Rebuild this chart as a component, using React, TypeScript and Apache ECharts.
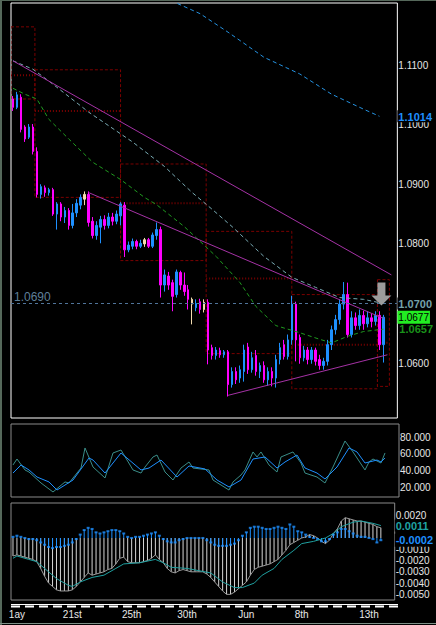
import React, { useEffect, useRef } from "react";
import * as echarts from "echarts";

const FONT = '"Liberation Sans", Arial, sans-serif';
const BAR_SLOTS = 97;

// ---- price candles (bar index 0..93) ----
const opens = [1.1043,1.1029,1.1046,1.0996,1.0979,1.0996,1.0955,1.0883,1.0894,1.0886,
1.0891,1.0850,1.0867,1.0845,1.0856,1.0831,1.0852,1.0865,1.0875,1.0883,
1.0838,1.0814,1.0828,1.0841,1.0831,1.0845,1.0838,1.0847,1.0865,1.0790,
1.0796,1.0804,1.0796,1.0800,1.0807,1.0796,1.0814,1.0824,1.0731,1.0746,
1.0735,1.0715,1.0752,1.0731,1.0723,1.0699,1.0693,1.0703,1.0690,1.0702,
1.0626,1.0613,1.0621,1.0614,1.0619,1.0564,1.0586,1.0575,1.0586,1.0627,
1.0589,1.0613,1.0586,1.0596,1.0572,1.0586,1.0575,1.0606,1.0631,1.0611,
1.0639,1.0699,1.0643,1.0609,1.0622,1.0606,1.0622,1.0606,1.0596,1.0603,
1.0631,1.0656,1.0673,1.0699,1.0715,1.0648,1.0676,1.0663,1.0680,1.0666,
1.0676,1.0670,1.0680,1.0631];
const closes = [1.1029,1.1050,1.0992,1.0976,1.0996,1.0955,1.0883,1.0896,1.0886,1.0891,
1.0850,1.0867,1.0845,1.0856,1.0831,1.0852,1.0868,1.0878,1.0883,1.0836,
1.0814,1.0831,1.0841,1.0831,1.0845,1.0838,1.0850,1.0867,1.0790,1.0798,
1.0804,1.0796,1.0801,1.0807,1.0796,1.0815,1.0824,1.0731,1.0748,1.0731,
1.0712,1.0753,1.0731,1.0720,1.0707,1.0707,1.0700,1.0690,1.0702,1.0622,
1.0613,1.0622,1.0614,1.0619,1.0564,1.0586,1.0572,1.0589,1.0622,1.0589,
1.0609,1.0586,1.0596,1.0572,1.0586,1.0575,1.0606,1.0626,1.0611,1.0639,
1.0699,1.0639,1.0609,1.0622,1.0606,1.0622,1.0603,1.0596,1.0603,1.0631,
1.0656,1.0673,1.0699,1.0715,1.0648,1.0676,1.0663,1.0680,1.0666,1.0676,
1.0670,1.0680,1.0631,1.0677];
const highs = [1.1048,1.1055,1.1051,1.0999,1.1001,1.1001,1.0962,1.0900,1.0898,1.0894,
1.0894,1.0870,1.0870,1.0862,1.0860,1.0867,1.0875,1.0883,1.0888,1.0888,
1.0845,1.0838,1.0847,1.0848,1.0852,1.0852,1.0856,1.0870,1.0870,1.0804,
1.0809,1.0807,1.0807,1.0810,1.0810,1.0819,1.0836,1.0829,1.0757,1.0753,
1.0740,1.0757,1.0755,1.0752,1.0731,1.0710,1.0707,1.0708,1.0707,1.0707,
1.0631,1.0627,1.0626,1.0622,1.0622,1.0593,1.0593,1.0596,1.0631,1.0634,
1.0619,1.0622,1.0601,1.0603,1.0593,1.0593,1.0614,1.0634,1.0639,1.0648,
1.0713,1.0703,1.0648,1.0629,1.0627,1.0627,1.0626,1.0614,1.0609,1.0639,
1.0663,1.0681,1.0707,1.0736,1.0735,1.0687,1.0685,1.0690,1.0688,1.0687,
1.0683,1.0687,1.0687,1.0681];
const lows = [1.1023,1.1026,1.0987,1.0971,1.0976,1.0950,1.0878,1.0876,1.0879,1.0881,
1.0847,1.0824,1.0838,1.0835,1.0824,1.0826,1.0845,1.0858,1.0865,1.0829,
1.0809,1.0807,1.0801,1.0824,1.0826,1.0831,1.0833,1.0831,1.0778,1.0786,
1.0791,1.0791,1.0793,1.0795,1.0793,1.0793,1.0807,1.0710,1.0720,1.0723,
1.0687,1.0710,1.0723,1.0713,1.0690,1.0665,1.0687,1.0683,1.0685,1.0598,
1.0606,1.0606,1.0609,1.0609,1.0544,1.0559,1.0565,1.0567,1.0569,1.0582,
1.0584,1.0579,1.0575,1.0567,1.0562,1.0561,1.0559,1.0598,1.0606,1.0606,
1.0631,1.0603,1.0599,1.0603,1.0598,1.0599,1.0596,1.0589,1.0589,1.0596,
1.0622,1.0648,1.0665,1.0690,1.0643,1.0643,1.0656,1.0656,1.0656,1.0660,
1.0660,1.0663,1.0622,1.0601];
const paleBars = [18, 33, 45, 48];

// ---- moving averages [bar index, price] ----
const ma200 = [[40,1.1211],[41,1.1204],[47,1.1186],[54,1.1155],[63,1.1113],[72,1.1085],[80,1.1051],[88,1.1026],[92,1.1014]];
const ma100 = [[0,1.1107],[5,1.1093],[10,1.1068],[19,1.1021],[30,1.0971],[38,1.0930],[45,1.0886],[50,1.0858],[55,1.0829],[63,1.0779],[70,1.0744],[76,1.0727],[82,1.0710],[88,1.0707],[93,1.0700]];
const ma50 = [[0,1.1061],[3,1.1051],[6,1.1043],[9,1.1009],[14,1.0976],[20,1.0937],[27,1.0908],[33,1.0878],[36,1.0866],[43,1.0829],[51,1.0779],[57,1.0735],[61,1.0695],[66,1.0663],[72,1.0651],[77,1.0640],[80,1.0634],[84,1.0645],[88,1.0653],[93,1.0657]];

// ---- trend lines ----
const trendA = [[0,1.1107],[95,1.0748]];
const trendB = [[19,1.0886],[93,1.0675]];
const trendC = [[54,1.0546],[94,1.0614]];
const hLineLevel = 1.0690;
const arrowAt = [92, 1.0716];

// ---- period boxes (bar index bounds, prices) ----
const boxStart = [-0.5, 5.5, 27, 48.5, 70, 91.5];
const boxEnd = [5.5, 27, 48.5, 70, 91.5, 94.5];
const boxHigh = [1.1164, 1.1092, 1.0934, 1.0821, 1.0715, 1.0740];
const boxLow = [1.1043, 1.0878, 1.0772, 1.0616, 1.0557, 1.0561];
const boxMid = [1.1083, 1.1023, 1.0868, 1.0742, 1.0631, 1.0634];

// ---- stochastic [bar index, value] ----
const stochMain = [[0,37.6],[2,47.1],[4,41.2],[6,32.9],[9,27.1],[11,17.6],[13,23.5],[15,29.4],[19,55.3],[20,52.9],[23,37.6],[27,61.2],[32,41.2],[34,43.5],[37,52.9],[41,32.9],[44,45.9],[48,42.4],[51,29.4],[54,21.2],[57,29.4],[60,54.1],[63,56.5],[66,43.5],[68,50.6],[71,58.8],[73,43.5],[76,37.6],[78,30.6],[81,44.7],[84,67.1],[86,62.4],[88,49.4],[91,52.9],[92,50.6],[93,55.3]];
const stochFast = [[0,47.1],[1,54.1],[3,41.2],[4,38.8],[7,25.9],[10,15.3],[13,27.1],[14,25.9],[17,43.5],[18,67.1],[20,44.7],[23,31.8],[25,61.2],[27,64.7],[30,41.2],[32,37.6],[33,44.7],[35,56.5],[36,58.8],[38,38.8],[40,29.4],[42,43.5],[44,50.6],[45,43.5],[49,41.2],[50,29.4],[54,17.6],[55,27.1],[57,35.3],[58,41.2],[60,62.4],[61,56.5],[62,62.4],[64,47.1],[66,38.8],[67,56.5],[70,62.4],[72,49.4],[73,37.6],[76,32.9],[78,25.9],[80,44.7],[83,75.3],[85,62.4],[88,41.2],[89,50.6],[90,54.1],[92,49.4],[93,61.2]];

// ---- MACD ----
const macd = [-0.0016,-0.0015,-0.0016,-0.0017,-0.0018,-0.0019,-0.0021,-0.0027,-0.0034,-0.0040,
-0.0043,-0.0046,-0.0047,-0.0047,-0.0047,-0.0046,-0.0043,-0.0039,-0.0035,-0.0031,
-0.0033,-0.0032,-0.0031,-0.0030,-0.0028,-0.0027,-0.0023,-0.0018,-0.0017,-0.0021,
-0.0022,-0.0022,-0.0022,-0.0021,-0.0020,-0.0018,-0.0015,-0.0019,-0.0022,-0.0027,
-0.0030,-0.0031,-0.0029,-0.0028,-0.0029,-0.0030,-0.0030,-0.0030,-0.0030,-0.0032,
-0.0035,-0.0039,-0.0043,-0.0047,-0.0050,-0.0050,-0.0048,-0.0045,-0.0042,-0.0039,
-0.0033,-0.0028,-0.0026,-0.0025,-0.0024,-0.0023,-0.0021,-0.0019,-0.0015,-0.0011,
-0.0006,-0.0004,-0.0002,0.0000,0.0001,0.0003,0.0002,0.0000,-0.0003,-0.0005,
-0.0002,0.0004,0.0008,0.0015,0.0018,0.0017,0.0016,0.0015,0.0015,0.0014,
0.0013,0.0012,0.0010,0.0009];
const osma = [0.0001,0.0002,0.0001,0.0000,-0.0001,-0.0001,-0.0002,-0.0004,-0.0006,-0.0008,
-0.0009,-0.0008,-0.0008,-0.0007,-0.0006,-0.0004,-0.0001,0.0003,0.0007,0.0009,
0.0008,0.0005,0.0004,0.0005,0.0006,0.0007,0.0007,0.0006,0.0004,0.0001,
0.0000,0.0001,0.0001,0.0002,0.0003,0.0004,0.0005,0.0002,-0.0001,-0.0003,
-0.0004,-0.0004,-0.0002,-0.0001,0.0000,0.0000,0.0000,0.0000,0.0000,-0.0002,
-0.0004,-0.0006,-0.0007,-0.0007,-0.0007,-0.0006,-0.0005,-0.0002,0.0002,0.0005,
0.0009,0.0010,0.0010,0.0009,0.0008,0.0008,0.0009,0.0010,0.0009,0.0008,
0.0012,0.0010,0.0006,0.0005,0.0003,0.0001,0.0000,-0.0001,-0.0003,-0.0003,
-0.0001,0.0003,0.0005,0.0008,0.0008,0.0006,0.0004,0.0002,0.0001,0.0001,
0.0000,-0.0001,-0.0004,-0.0002];
const signal = [[0,-0.0018],[1,-0.0016],[4,-0.0019],[6,-0.0021],[9,-0.0030],[11,-0.0036],[14,-0.0042],[15,-0.0043],[17,-0.0039],[20,-0.0035],[23,-0.0033],[26,-0.0027],[28,-0.0023],[32,-0.0022],[36,-0.0019],[38,-0.0022],[40,-0.0026],[44,-0.0027],[47,-0.0029],[50,-0.0031],[53,-0.0039],[56,-0.0044],[58,-0.0044],[61,-0.0040],[63,-0.0033],[66,-0.0027],[68,-0.0019],[71,-0.0011],[73,-0.0005],[76,-0.0003],[79,0.0000],[81,0.0004],[83,0.0010],[86,0.0014],[88,0.0015],[91,0.0013],[93,0.0011]];

// ---- axis ticks / labels ----
const priceTicks = [1.06, 1.08, 1.09, 1.10, 1.11];
const priceMarkers = [1.1014, 1.0700, 1.0677, 1.0657];
const priceMarkerStyle = ["b", "s", "p", "g"];
const stochTicks = [20, 40, 60, 80];
const macdTicks = [0.002, -0.001, -0.002, -0.003, -0.004, -0.005];
const macdMarkers = [0.0011, -0.0002];
const macdMarkerStyle = ["t", "b"];
const timeLabelText = ["1ay", "21st", "25th", "30th", "Jun", "8th", "13th"];
const timeLabelIdx = [1, 15, 30, 44, 59, 73, 90];

export default function App() {
  const ref = useRef<HTMLDivElement>(null);
  useEffect(() => {
    document.body.style.margin = "0";
    document.body.style.background = "#000";
    const chart = echarts.init(ref.current!, null, { renderer: "svg" });
    const cats = Array.from({ length: BAR_SLOTS }, (_, i) => String(i));
    const labelMap: Record<number, string> = {};
    timeLabelIdx.forEach((b, k) => (labelMap[b] = timeLabelText[k]));
    const pale = "#f3dcb0";
    const candleData = opens.map((o, i) => {
      const v = [o, closes[i], lows[i], highs[i]];
      return paleBars.includes(i)
        ? { value: v, itemStyle: { color: pale, color0: pale, borderColor: pale, borderColor0: pale } }
        : v;
    });
    const markerFmt = (vals: number[], styles: string[]) => (val: number) => {
      const k = vals.findIndex((m) => Math.abs(m - val) < 1e-7);
      return k < 0 ? "" : `{${styles[k]}|${val.toFixed(4)}}`;
    };
    const hidden = { axisLine: { show: false }, axisTick: { show: false }, splitLine: { show: false } };
    const xAxes = [0, 1, 2].map((g) => ({
      type: "category",
      gridIndex: g,
      data: cats,
      boundaryGap: true,
      ...hidden,
      axisLabel:
        g === 2
          ? {
              show: true,
              interval: 0,
              margin: 9,
              color: "#e8e8e8",
              fontSize: 10,
              fontFamily: FONT,
              formatter: (_v: string, idx: number) => labelMap[idx] || "",
            }
          : { show: false },
    }));
    const lbl = { color: "#e6e6e6", fontSize: 10, fontFamily: FONT, margin: 1 };
    const line = (data: number[][], color: string, type: any, xi = 0, yi = 0, z = 3) => ({
      type: "line",
      xAxisIndex: xi,
      yAxisIndex: yi,
      data,
      showSymbol: false,
      symbol: "none",
      silent: true,
      z,
      lineStyle: { color, width: 1, type },
    });
    const option: any = {
      animation: false,
      backgroundColor: "#000",
      grid: [
        { left: 11, top: 3, width: 388, height: 415, show: true, borderColor: "#ffffff", borderWidth: 1, backgroundColor: "transparent" },
        { left: 11, top: 424, width: 388, height: 73, show: true, borderColor: "#8a8a8a", borderWidth: 1, backgroundColor: "transparent" },
        { left: 11, top: 503, width: 388, height: 97, show: true, borderColor: "#8a8a8a", borderWidth: 1, backgroundColor: "transparent" },
      ],
      xAxis: xAxes,
      yAxis: [
        {
          type: "value", gridIndex: 0, position: "right", min: 1.0508, max: 1.1204, ...hidden,
          axisLabel: { ...lbl, customValues: priceTicks, formatter: (v: number) => v.toFixed(4) },
        },
        {
          type: "value", gridIndex: 0, position: "right", min: 1.0508, max: 1.1204, ...hidden, z: 5,
          axisLabel: {
            ...lbl, margin: 0, customValues: priceMarkers,
            formatter: markerFmt(priceMarkers, priceMarkerStyle),
            rich: {
              b: { color: "#1e8fff", fontWeight: "bold", fontSize: 11, fontFamily: FONT, backgroundColor: "#000", padding: [1, 0, 0, 1] },
              s: { color: "#74a2ab", fontWeight: "bold", fontSize: 11, fontFamily: FONT, backgroundColor: "#000", padding: [1, 0, 0, 1] },
              p: { color: "#000", fontSize: 10, fontFamily: FONT, backgroundColor: "#22ee22", padding: [2, 1, 1, 1] },
              g: { color: "#1a921a", fontWeight: "bold", fontSize: 11, fontFamily: FONT, padding: [0, 0, 0, 2] },
            },
          },
        },
        {
          type: "value", gridIndex: 1, position: "right", min: 9.4, max: 95.3, ...hidden,
          axisLabel: { ...lbl, customValues: stochTicks, formatter: (v: number) => v.toFixed(3) },
        },
        {
          type: "value", gridIndex: 2, position: "right", min: -0.0055, max: 0.0031, ...hidden,
          axisLabel: { ...lbl, customValues: macdTicks, formatter: (v: number) => v.toFixed(4) },
        },
        {
          type: "value", gridIndex: 2, position: "right", min: -0.0055, max: 0.0031, ...hidden, z: 5,
          axisLabel: {
            ...lbl, margin: 0, customValues: macdMarkers,
            formatter: markerFmt(macdMarkers, macdMarkerStyle),
            rich: {
              t: { color: "#1fa3a3", fontWeight: "bold", fontSize: 11, fontFamily: FONT, backgroundColor: "#000", padding: [1, 0, 0, 1] },
              b: { color: "#1e8fff", fontWeight: "bold", fontSize: 11, fontFamily: FONT, backgroundColor: "#000", padding: [1, 0, 1, 1] },
            },
          },
        },
      ],
      graphic: [
        { type: "rect", shape: { x: 0, y: 0, width: 2, height: 625 }, style: { fill: "#55685a" }, silent: true },
        { type: "rect", shape: { x: 0, y: 0, width: 436, height: 1 }, style: { fill: "#55685a" }, silent: true },
        { type: "rect", shape: { x: 0, y: 623, width: 436, height: 1 }, style: { fill: "#7d8f86" }, silent: true },
        { type: "line", shape: { x1: 11, y1: 604.5, x2: 398, y2: 604.5 }, style: { stroke: "#ffffff", lineWidth: 1 }, silent: true },
        { type: "line", shape: { x1: 11, y1: 606.5, x2: 398, y2: 606.5 }, style: { stroke: "#ffffff", lineWidth: 2, lineDash: [9, 5] }, silent: true },
      ],
      series: [
        {
          type: "custom",
          xAxisIndex: 0,
          yAxisIndex: 0,
          silent: true,
          clip: true,
          z: 1,
          data: boxHigh.map((h, k) => [k, h]),
          renderItem: (params: any, api: any) => {
            const k = params.dataIndex;
            const bw = api.size([1, 0])[0];
            const xAt = (f: number) => {
              const b = Math.floor(f);
              return api.coord([b, boxHigh[k]])[0] + (f - b) * bw;
            };
            const x0 = xAt(boxStart[k]);
            const x1 = xAt(boxEnd[k]);
            const yT = api.coord([0, boxHigh[k]])[1];
            const yB = api.coord([0, boxLow[k]])[1];
            const yM = api.coord([0, boxMid[k]])[1];
            return {
              type: "group",
              children: [
                { type: "rect", shape: { x: x0, y: yT, width: x1 - x0, height: yB - yT }, style: { fill: "none", stroke: "#7a0000", lineWidth: 1, lineDash: [3, 2] } },
                { type: "line", shape: { x1: x0, y1: yM, x2: x1, y2: yM }, style: { stroke: "#7a0000", lineWidth: 2, lineDash: [1, 2] } },
              ],
            };
          },
        },
        {
          type: "candlestick",
          xAxisIndex: 0,
          yAxisIndex: 0,
          z: 2,
          barWidth: 2,
          data: candleData,
          itemStyle: { color: "#1e90ff", color0: "#ff00ff", borderColor: "#1e90ff", borderColor0: "#ff00ff", borderWidth: 1 },
          markLine: {
            silent: true,
            symbol: "none",
            lineStyle: { color: "#50749a", type: [3, 3], width: 1 },
            label: { show: true, position: "insideStartTop", formatter: hLineLevel.toFixed(4), color: "#5f7f99", fontSize: 12, fontFamily: FONT, distance: [3, 1] },
            data: [{ yAxis: hLineLevel }],
          },
          markPoint: {
            silent: true,
            symbol: "path://M6 0H14V13H20L10 23L0 13H6Z",
            symbolSize: [20, 23],
            symbolOffset: [2, 0],
            itemStyle: { color: "#9c9c9c" },
            label: { show: false },
            data: [{ coord: arrowAt }],
          },
        },
        line(ma200, "#2592e0", [4, 3]),
        line(ma100, "#78aab3", [4, 3]),
        line(ma50, "#1f9a1f", [4, 3]),
        line(trendA, "#a532a5", "solid", 0, 0, 4),
        line(trendB, "#a532a5", "solid", 0, 0, 4),
        line(trendC, "#a532a5", "solid", 0, 0, 4),
        line(stochFast, "#3a8d88", "solid", 1, 2),
        line(stochMain, "#1e90ff", "solid", 1, 2, 4),
        {
          type: "bar", xAxisIndex: 2, yAxisIndex: 3, data: macd, barWidth: 1, silent: true, z: 2,
          itemStyle: { color: "#d6d6d6" },
        },
        {
          type: "bar", xAxisIndex: 2, yAxisIndex: 3, data: osma, barWidth: 1, barGap: "-100%", silent: true, z: 3,
          itemStyle: { color: "#1e90ff" },
        },
        line(macd.map((v, i) => [i, v]), "#9a9a9a", "solid", 2, 3, 3),
        {
          type: "scatter", xAxisIndex: 2, yAxisIndex: 3, silent: true, z: 4,
          data: osma.map((v, i) => [i, v]),
          symbol: "rect", symbolSize: [3, 2],
          itemStyle: { color: "#1e90ff" },
        },
        line(signal, "#1fa0a0", "solid", 2, 3, 5),
      ],
    };
    chart.setOption(option);
    return () => chart.dispose();
  }, []);
  return (
    <div
      ref={ref}
      style={{ position: "fixed", left: 0, top: 0, width: 436, height: 625, background: "#000" }}
    />
  );
}
